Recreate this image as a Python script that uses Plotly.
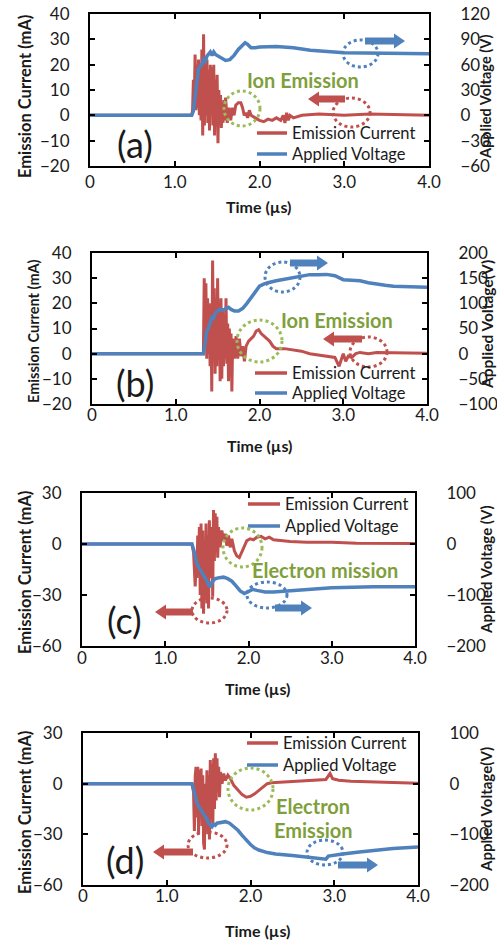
import plotly.graph_objects as go

W, H = 497, 941
RED = "#C0504D"
BLUE = "#4F81BD"
GREEN = "#9BBB59"
GTEXT = "#7F9F3D"
FONT = "Lato"
TXT = "#1a1a1a"

# ---------------- data ----------------
x_ticks = [0, 1, 2, 3, 4]
x_ticktext = ["0", "1.0", "2.0", "3.0", "4.0"]

# (a)
t_a_I = [0.00, 1.20,
         1.21, 1.22, 1.23, 1.24, 1.25, 1.26, 1.27, 1.28, 1.29, 1.30,
         1.31, 1.32, 1.33, 1.34, 1.35, 1.36, 1.37, 1.38, 1.39, 1.40,
         1.41, 1.42, 1.43, 1.44, 1.45, 1.46, 1.47, 1.48, 1.49, 1.50,
         1.51, 1.52, 1.53, 1.54, 1.55, 1.56, 1.57, 1.58, 1.59, 1.60,
         1.62, 1.64, 1.66, 1.68, 1.70, 1.72,
         1.75, 1.78, 1.80, 1.82, 1.84, 1.86, 1.88, 1.90,
         1.95, 2.00, 2.05, 2.10, 2.15, 2.20, 2.25,
         2.28, 2.30, 2.32, 2.34, 2.36, 2.40,
         2.50, 2.70, 3.00, 3.30, 4.00]
I_a = [0, 0,
       2, 14, 4, 24, 2, 20, 3, 22, 0, 18,
       -2, 26, -8, 32, -4, 20, 0, 22, -3, 18,
       -6, 20, 2, 19, -4, 20, -8, 14, 0, 16,
       -11, 10, -2, 8, -5, 5, -3, 6, -2, 7,
       -3, 3, -2, 3, 0, 4,
       5, 5, 3, 0, 1, -1, 2, 0,
       -1, -2, -2.5, -1.5, -2, -1, -2,
       0, -3, 1, -2, 0, -1,
       0, 0.5, 0, 0.5, 0]
t_a_V = [0.00, 1.20, 1.22, 1.24, 1.26, 1.28, 1.30, 1.32, 1.34, 1.36,
         1.38, 1.40, 1.42, 1.44, 1.46, 1.48, 1.50, 1.55, 1.60, 1.65,
         1.70, 1.75, 1.80, 1.83, 1.86, 1.90, 1.95, 2.00, 2.20, 2.40,
         2.60, 2.80, 3.00, 3.50, 4.00]
V_a = [0, 0, 5, 20, 40, 55, 58, 60, 66, 64,
       70, 72, 75, 71, 75, 72, 71, 68, 65, 66,
       71, 78, 84, 86, 84, 80, 80, 81, 81.5, 80,
       77, 75, 74, 73.5, 73]

# (b)
t_b_I = [0.00, 1.33,
         1.34, 1.35, 1.36, 1.37, 1.38, 1.39, 1.40, 1.41, 1.42, 1.43,
         1.44, 1.45, 1.46, 1.47, 1.48, 1.49, 1.50, 1.51, 1.52, 1.53,
         1.54, 1.55, 1.56, 1.57, 1.58, 1.59, 1.60, 1.61, 1.62, 1.63,
         1.64, 1.65, 1.66, 1.67, 1.68,
         1.70, 1.72, 1.74, 1.76, 1.78, 1.80, 1.82, 1.84, 1.87, 1.90,
         1.93, 1.96, 1.99, 2.02, 2.05, 2.08, 2.12, 2.16, 2.20, 2.30,
         2.40, 2.50, 2.60, 2.70, 2.80, 2.90, 2.95, 2.98, 3.00, 3.03,
         3.06, 3.10, 3.15, 3.20, 3.30, 3.40, 3.60, 4.00]
I_b = [0, 0,
       30, 5, 28, -2, 22, 0, 20, -5, 18, -15,
       37, 2, 26, -8, 22, -5, 30, 0, 20, -11,
       22, -10, 18, -5, 15, -2, 22, -4, 12, -11,
       10, -6, 8, -15, 6,
       -2, 7, -2, 6, -1, 3, -3, 3, 5, 6,
       7, 9, 9.5, 8, 7, 6, 5, 3, 2, 2,
       1.5, 1, 0, -0.5, -1, -1.5, -5, -2, 0, -3,
       -1, -1.5, 0, 0.5, 0, 0.5, 0.3, 0.2]
t_b_V = [0.00, 1.33, 1.35, 1.37, 1.39, 1.41, 1.43, 1.45, 1.47, 1.50,
         1.53, 1.56, 1.60, 1.63, 1.66, 1.70, 1.75, 1.80, 1.85, 1.90,
         1.95, 2.00, 2.05, 2.10, 2.20, 2.30, 2.40, 2.50, 2.60, 2.70,
         2.80, 2.90, 2.95, 3.00, 3.10, 3.20, 3.30, 3.40, 3.50, 3.60,
         3.80, 4.00]
V_b = [0, 0, 20, 45, 50, 65, 72, 70, 80, 85,
       88, 86, 90, 92, 88, 85, 85, 90, 100, 112,
       124, 134, 138, 141, 145, 148, 152, 155, 157, 157,
       157.5, 155, 150, 147, 146, 145, 141, 138, 136, 134,
       133, 132]

# (c)
t_c_I = [0.00, 1.32, 1.34,
         1.36, 1.37, 1.38, 1.39, 1.40, 1.41, 1.42, 1.43, 1.44, 1.45,
         1.46, 1.47, 1.48, 1.49, 1.50, 1.51, 1.52, 1.53, 1.54, 1.55,
         1.56, 1.57, 1.58, 1.59, 1.60, 1.61, 1.62, 1.63, 1.64,
         1.66, 1.68, 1.70, 1.72, 1.74, 1.76, 1.78, 1.80, 1.83, 1.86,
         1.89, 1.92, 1.95, 1.98, 2.02, 2.06, 2.10, 2.15, 2.20, 2.25,
         2.30, 2.40, 2.50, 2.70, 3.00, 3.30, 3.60, 4.00]
I_c = [0, 0, -5,
       -25, -10, -20, 5, -15, 10, -30, 12, -38, 8,
       -41, 0, -25, 12, -35, 5, -38, 14, -20, 10,
       8, -31, 20, -10, 18, -5, 16, -8, 10,
       -2, 8, 2, 6, -1, 5, -2, 3, -4, -7,
       -8, -5, -1, 2, 3, 2.5, 4, 4.5, 3, 4,
       2.5, 2, 1.5, 1, 1, 0.5, 0.5, 0.3]
t_c_V = [0.00, 1.32, 1.34, 1.36, 1.38, 1.40, 1.42, 1.44, 1.46, 1.48,
         1.50, 1.52, 1.54, 1.56, 1.58, 1.60, 1.65, 1.70, 1.75, 1.80,
         1.85, 1.90, 1.95, 2.00, 2.05, 2.10, 2.20, 2.30, 2.40, 2.60,
         2.80, 3.00, 3.50, 4.00]
V_c = [0, 0, -10, -25, -38, -45, -50, -56, -60, -66,
       -72, -80, -84, -75, -72, -68, -66, -65, -68, -73,
       -82, -92, -97, -92, -89, -91, -94, -94, -93, -90,
       -88, -86, -84, -84]

# (d)
t_d_I = [0.00, 1.30, 1.32,
         1.33, 1.34, 1.35, 1.36, 1.37, 1.38, 1.39, 1.40, 1.41, 1.42,
         1.43, 1.44, 1.45, 1.46, 1.47, 1.48, 1.49, 1.50, 1.51, 1.52,
         1.53, 1.54, 1.55, 1.56, 1.57, 1.58, 1.59, 1.60, 1.61, 1.62,
         1.63, 1.64,
         1.66, 1.68, 1.70, 1.73, 1.76, 1.80, 1.85, 1.90, 1.95, 2.00,
         2.05, 2.10, 2.15, 2.20, 2.25, 2.40, 2.60, 2.80, 2.90, 2.95,
         2.98, 3.02, 3.05, 3.20, 3.40, 3.60, 3.80, 4.00]
I_d = [0, 0, -5,
       -28, 5, 10, -20, 10, -30, 8, -10, 9, -25,
       5, -35, -39, 0, -20, 8, -30, 5, -33, 14,
       -20, 12, -25, 15, -15, 18, -10, 15, -5, 10,
       -8, 7,
       0, 6, 2, 5, 3, -1, -4, -6.5, -8, -7.5,
       -6, -4, -2, 0, 0.5, 1, 1.5, 2, 2.5, 6,
       3, 2.5, 2, 1.5, 1, 0.8, 0.5, 0.3]
t_d_V = [0.00, 1.30, 1.32, 1.34, 1.36, 1.38, 1.40, 1.42, 1.44, 1.46,
         1.48, 1.50, 1.52, 1.54, 1.56, 1.58, 1.60, 1.65, 1.70, 1.75,
         1.80, 1.85, 1.90, 1.95, 2.00, 2.05, 2.10, 2.20, 2.30, 2.50,
         2.70, 2.80, 2.90, 2.93, 3.00, 3.10, 3.30, 3.50, 3.70, 4.00]
V_d = [0, 0, -10, -25, -38, -45, -50, -55, -58, -65,
       -70, -78, -82, -85, -80, -82, -78, -76, -75, -78,
       -84, -92, -102, -112, -120, -127, -131, -136, -139, -142,
       -145, -148, -149, -143, -141, -139, -135, -131, -128, -125]

series_names = ["Emission Current", "Applied Voltage"]

# ---------------- layout helpers (window pixels -> paper) ----------------
def fx(px):
    return px / W


def fy(py):
    return 1 - py / H


panels = [
    dict(I=(t_a_I, I_a), V=(t_a_V, V_a), box=(90, 14, 429, 166),
         lr=[-20, 40], ld=10, rr=[-60, 120], rd=30,
         ltitle=(25, 97, 16.5), rtitle=(486, 97, "Applied Voltage (V)", 14.5),
         xtitle=(258, 207), xstand=0, label=("(a)", 135, 144),
         green=[("Ion Emission", 303, 80)],
         leg=(257, 287, 290, 133, 154),
         gc=(224, 91, 260, 126), rc=(333, 98, 370, 127), bc=(343, 40, 378, 67),
         ra=(345, 308, 99), ba=(365, 405, 41)),
    dict(I=(t_b_I, I_b), V=(t_b_V, V_b), box=(92, 253, 427, 404),
         lr=[-20, 40], ld=10, rr=[-100, 200], rd=50,
         ltitle=(33, 331, 14.5), rtitle=(487, 325, "Applied Voltage(V)", 15.5),
         xtitle=(259, 445), xstand=-5, label=("(b)", 135, 383),
         green=[("Ion Emission", 337, 320)],
         leg=(255, 287, 290, 373, 393),
         gc=(237, 320, 282, 362), rc=(350, 337, 387, 367), bc=(265, 262, 300, 292),
         ra=(362, 323, 339), ba=(290, 328, 263)),
    dict(I=(t_c_I, I_c), V=(t_c_V, V_c), box=(82, 493, 415, 646),
         lr=[-60, 30], ld=30, rr=[-200, 100], rd=100,
         ltitle=(25, 573, 16.5), rtitle=(486, 570, "Applied Voltage (V)", 15),
         xtitle=(257, 688), xstand=-4, label=("(c)", 124, 620),
         green=[("Electron mission", 325, 570)],
         leg=(248, 280, 283, 504, 526),
         gc=(223, 528, 262, 567), rc=(192, 598, 227, 623), bc=(247, 582, 287, 608),
         ra=(193, 155, 612), ba=(275, 312, 608)),
    dict(I=(t_d_I, I_d), V=(t_d_V, V_d), box=(83, 733, 418, 885),
         lr=[-60, 30], ld=30, rr=[-200, 100], rd=100,
         ltitle=(25, 813, 16.5), rtitle=(486, 810, "Applied Voltage(V)", 15),
         xtitle=(257, 930), xstand=-5, label=("(d)", 125, 860),
         green=[("Electron", 313, 806), ("Emission", 313, 830)],
         leg=(247, 278, 281, 743, 765),
         gc=(228, 768, 273, 810), rc=(188, 832, 227, 858), bc=(307, 840, 343, 865),
         ra=(193, 153, 852), ba=(338, 378, 865)),
]

fig = go.Figure()
layout = {}
shapes = []
annotations = []


def axis_common():
    return dict(showline=True, linecolor="black", linewidth=2, ticks="inside",
                ticklen=5, tickwidth=1.5, tickcolor="black", showgrid=False,
                zeroline=False, automargin=False, ticklabeloverflow="allow",
                tickfont=dict(family=FONT, size=17, color=TXT))


def arrow_path(x_tail, x_head, y):
    s = 1 if x_head > x_tail else -1
    hl, sh, hh = 11, 3.5, 7.5
    xb = x_head - s * hl
    pts = [(x_tail, y - sh), (xb, y - sh), (xb, y - hh), (x_head, y),
           (xb, y + hh), (xb, y + sh), (x_tail, y + sh)]
    return "M " + " L ".join(f"{fx(a):.5f},{fy(b):.5f}" for a, b in pts) + " Z"


def ann(text, px, py, size, color=TXT, bold=False, angle=0, xanchor="center"):
    if bold:
        text = f"<b>{text}</b>"
    annotations.append(dict(text=text, x=fx(px), y=fy(py), xref="paper", yref="paper",
                            showarrow=False, xanchor=xanchor, yanchor="middle",
                            textangle=angle,
                            font=dict(family=FONT, size=size, color=color)))


for i, p in enumerate(panels, start=1):
    xk = "xaxis" if i == 1 else f"xaxis{i}"
    xr = "x" if i == 1 else f"x{i}"
    yl = 2 * i - 1
    yr = 2 * i
    ylk = "yaxis" if yl == 1 else f"yaxis{yl}"
    yrk = f"yaxis{yr}"
    ylr = "y" if yl == 1 else f"y{yl}"
    yrr = f"y{yr}"
    x0, y0, x1, y1 = p["box"]

    ax = axis_common()
    ax.update(domain=[fx(x0), fx(x1)], anchor=ylr, range=[0, 4], tickvals=x_ticks,
              ticktext=x_ticktext, mirror="ticks", ticklabelstandoff=p["xstand"])
    layout[xk] = ax

    al = axis_common()
    al.update(domain=[fy(y1), fy(y0)], anchor=xr, range=p["lr"], dtick=p["ld"],
              tick0=0, ticklabelstandoff=15)
    layout[ylk] = al

    ar = axis_common()
    ar.update(overlaying=ylr, side="right", anchor=xr, range=p["rr"], dtick=p["rd"],
              tick0=0, ticklabelstandoff=26)
    layout[yrk] = ar

    tI, vI = p["I"]
    tV, vV = p["V"]
    fig.add_trace(go.Scatter(x=tI, y=vI, xaxis=xr, yaxis=ylr, mode="lines",
                             line=dict(color=RED, width=3), name=series_names[0],
                             showlegend=False))
    fig.add_trace(go.Scatter(x=tV, y=vV, xaxis=xr, yaxis=yrr, mode="lines",
                             line=dict(color=BLUE, width=3.5), name=series_names[1],
                             showlegend=False))

    # axis titles
    lx, ly, lsz = p["ltitle"]
    ann("Emission Current (mA)", lx, ly, lsz, bold=True, angle=-90)
    rx, ry, rtxt, rsz = p["rtitle"]
    ann(rtxt, rx, ry, rsz, bold=True, angle=-90)
    tx, ty = p["xtitle"]
    ann("Time (µs)", tx, ty, 16, bold=True)
    lab, lbx, lby = p["label"]
    ann(lab, lbx, lby, 36)
    for g, gx, gy in p["green"]:
        ann(g, gx, gy, 20, color=GTEXT, bold=True)

    # legend
    sx0, sx1, tx0, ry0, ry1 = p["leg"]
    for color, yy, nm in [(RED, ry0, series_names[0]), (BLUE, ry1, series_names[1])]:
        shapes.append(dict(type="line", xref="paper", yref="paper", x0=fx(sx0), x1=fx(sx1),
                           y0=fy(yy), y1=fy(yy), line=dict(color=color, width=3.5)))
        ann(nm, tx0, yy, 16.5, xanchor="left")

    # dotted circles
    for key, col in [("gc", GREEN), ("rc", RED), ("bc", BLUE)]:
        cx0, cy0, cx1, cy1 = p[key]
        shapes.append(dict(type="circle", xref="paper", yref="paper",
                           x0=fx(cx0), x1=fx(cx1), y0=fy(cy1), y1=fy(cy0),
                           line=dict(color=col, width=3, dash="dot")))
    # arrows
    for key, col in [("ra", RED), ("ba", BLUE)]:
        a_t, a_h, a_y = p[key]
        shapes.append(dict(type="path", xref="paper", yref="paper",
                           path=arrow_path(a_t, a_h, a_y), fillcolor=col,
                           line=dict(color=col, width=0)))

fig.update_layout(width=W, height=H, margin=dict(l=0, r=0, t=0, b=0, autoexpand=False),
                  paper_bgcolor="white", plot_bgcolor="white", showlegend=False,
                  shapes=shapes, annotations=annotations, **layout)

fig.write_html("out.html", config={"displayModeBar": False},
               post_script="document.body.style.margin='0px';document.body.style.padding='0px';")
